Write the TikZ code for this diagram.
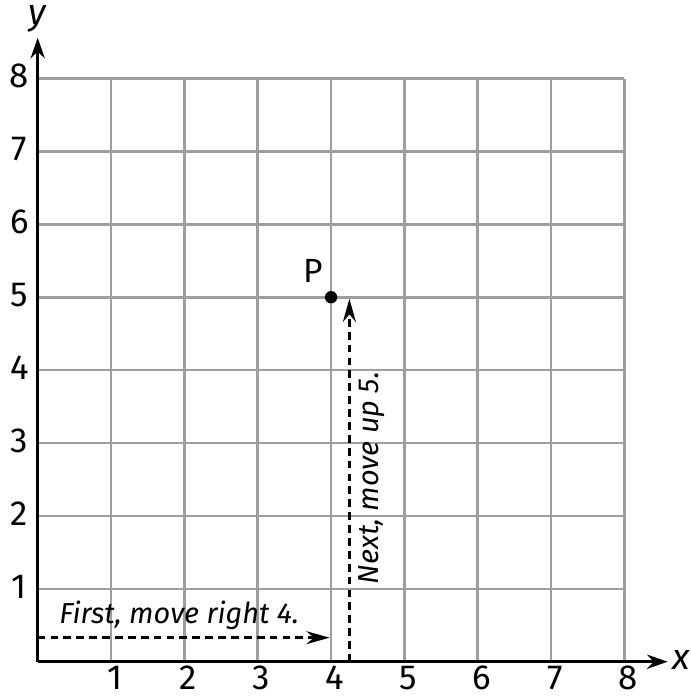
\documentclass[tikz,border=0pt]{standalone}
\usepackage{fontspec}
\setmainfont{Fira Sans}
\usetikzlibrary{arrows.meta}
\begin{document}
\begin{tikzpicture}[x=1cm,y=0.994cm,
  gridline/.style={draw=black!38,line width=1pt},
  axisline/.style={line width=1.3pt,-{Stealth[length=8pt,width=5.5pt]}},
  dashline/.style={line width=1pt,dash pattern=on 3pt off 2pt,-{Stealth[length=9pt,width=5pt]}},
  numlabel/.style={font=\fontsize{13.5}{15}\selectfont,inner sep=0pt},
  note/.style={font=\itshape\fontsize{11.2}{13}\selectfont,inner sep=0pt}]
\useasboundingbox (-0.514,-0.47) rectangle (8.90,9.077);
% grid
\foreach \i in {1,...,8} {
  \draw[gridline] (\i,0) -- (\i,8);
  \draw[gridline] (0,\i) -- (8,\i);
}
% axes
\coordinate (O) at (0,0);
\coordinate (xend) at (8.59,0);
\coordinate (yend) at (0,8.56);
\draw[axisline] (O) -- (xend);
\draw[axisline] (O) -- (yend);
\node[font=\itshape\fontsize{14}{16}\selectfont,inner sep=0pt] (xlab) at (8.78,0.03) {x};
\node[font=\itshape\fontsize{14}{16}\selectfont,inner sep=0pt] (ylab) at (0.0,8.82) {y};
\foreach \i in {1,...,8} {
  \node[numlabel] (xn\i) at (\i+0.05,-0.22) {\i};
  \node[numlabel] (yn\i) at (-0.25,\i+0.03) {\i};
}
% point P
\node[circle,fill=black,inner sep=0pt,minimum size=4.8pt] (P) at (4,5) {};
\node[font=\fontsize{13}{15}\selectfont,inner sep=0pt] (Plab) at (3.75,5.36) {P};
% moves
\coordinate (h0) at (0,0.33);
\coordinate (h1) at (3.98,0.33);
\draw[dashline] (h0) -- (h1);
\node[note] (t1) at (1.93,0.63) {First, move right 4.};
\coordinate (v0) at (4.25,0);
\coordinate (v1) at (4.25,4.98);
\draw[dashline] (v0) -- (v1);
\node[note,rotate=90] (t2) at (4.55,2.52) {Next, move up 5.};
\end{tikzpicture}
\end{document}
